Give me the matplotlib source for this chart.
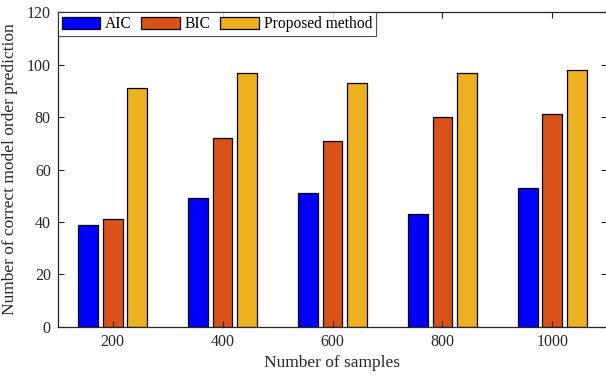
import matplotlib
matplotlib.use("Agg")
import matplotlib.pyplot as plt
import numpy as np

categories = ["200", "400", "600", "800", "1000"]
series_names = ["AIC", "BIC", "Proposed method"]
aic = [39, 49, 51, 43, 53]
bic = [41, 72, 71, 80, 81]
proposed = [91, 97, 93, 97, 98]
colors = ["#0000FF", "#D95319", "#EDB120"]
yticks = [0, 20, 40, 60, 80, 100, 120]

plt.rcParams['font.family'] = ['Liberation Serif', 'DejaVu Serif']
plt.rcParams['font.size'] = 11.5

W, H = 606, 377
fig = plt.figure(figsize=(W / 100, H / 100), dpi=100)
left, right, top, bottom = 57.7, 607.3, 12.3, 326.7
ax = fig.add_axes([left / W, 1 - bottom / H, (right - left) / W, (bottom - top) / H])

x = np.arange(1, len(categories) + 1)
offs = [-0.223, 0.0, 0.223]
width = 0.18
for vals, name, c, o in zip([aic, bic, proposed], series_names, colors, offs):
    ax.bar(x + o, vals, width=width, color=c, edgecolor="black", linewidth=0.9, label=name)

ax.set_xlim(0.5, 5.5)
ax.set_ylim(0, 120)
ax.set_xticks(x)
ax.set_xticklabels(categories)
ax.set_yticks(yticks)
ax.tick_params(direction="in", length=4.5, width=0.8, color="#262626", top=True, right=True,
               labelsize=11.5, labelcolor="#262626", pad=5)
for s in ax.spines.values():
    s.set_linewidth(0.9)
    s.set_color("#262626")

ax.set_xlabel("Number of samples", fontsize=12.5, color="#262626", labelpad=4)
ax.set_ylabel("Number of correct model order prediction", fontsize=12.5, color="#262626", labelpad=6)

leg = ax.legend(loc="upper left", bbox_to_anchor=(0, 1), ncol=3, fontsize=11.2,
                frameon=True, fancybox=False, borderaxespad=0.0,
                handlelength=2.5, handleheight=0.78, handletextpad=0.3,
                columnspacing=0.6, borderpad=0.25)
leg.get_frame().set_edgecolor("#262626")
leg.get_frame().set_linewidth(0.8)
for h in leg.legend_handles:
    h.set_linewidth(0.9)

fig.savefig("out.png", dpi=100)
